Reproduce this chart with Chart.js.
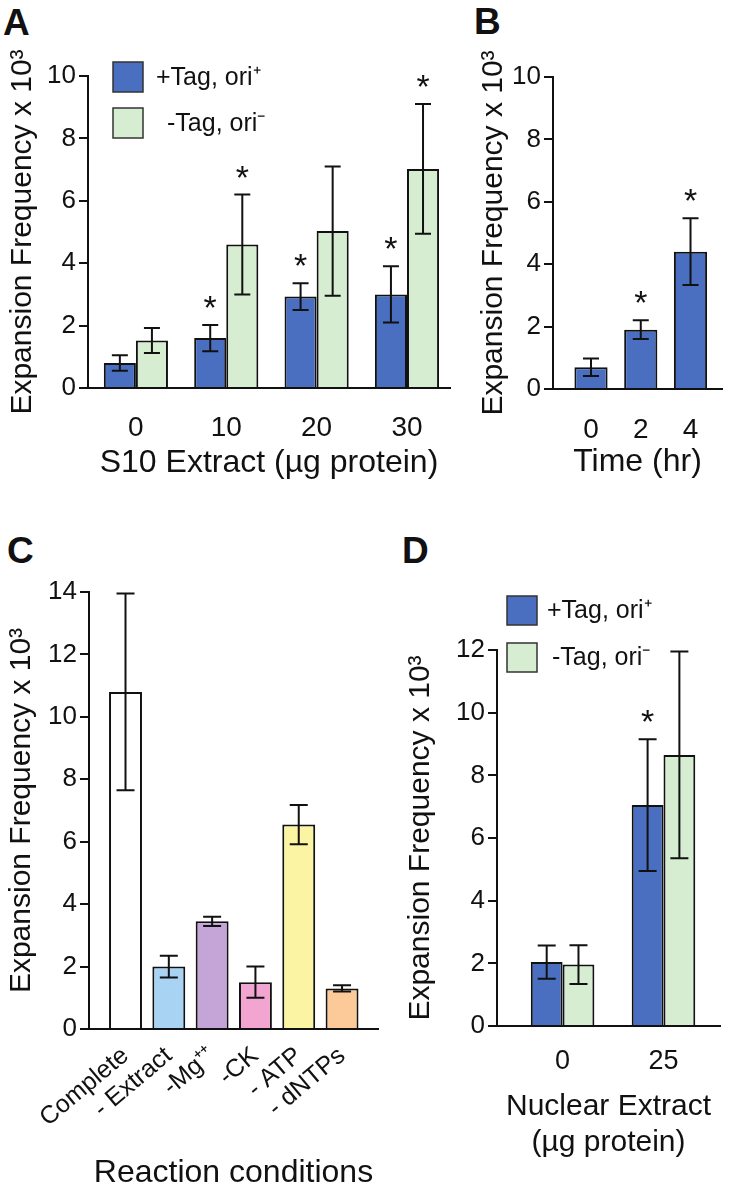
<!DOCTYPE html>
<html lang="en">
<head>
<meta charset="UTF-8">
<title>Expansion frequency panels A-D</title>
<script src="https://cdn.jsdelivr.net/npm/chart.js@4.4.1/dist/chart.umd.min.js"></script>
<style>
    body { margin: 0; background: #fff; width: 729px; height: 1189px; position: relative; overflow: hidden;
           font-family: 'Liberation Sans', Arial, Helvetica, sans-serif; }
    .panel { position: absolute; }
    .tag { position: absolute; font-weight: bold; font-size: 37px; line-height: 1; color: #111; }
</style>
</head>
<body>
<div class="tag" style="left:3px;top:4px">A</div>
<div class="tag" style="left:474px;top:3px">B</div>
<div class="tag" style="left:7px;top:532px">C</div>
<div class="tag" style="left:402px;top:532px">D</div>

<div class="panel" style="left:0;top:0;width:465px;height:500px"><canvas id="chartA"></canvas></div>
<div class="panel" style="left:465px;top:0;width:264px;height:500px"><canvas id="chartB"></canvas></div>
<div class="panel" style="left:0;top:520px;width:400px;height:669px"><canvas id="chartC"></canvas></div>
<div class="panel" style="left:400px;top:520px;width:329px;height:669px"><canvas id="chartD"></canvas></div>

<script>
    // ---- data ----
    const seriesNames = ['+Tag, ori⁺', '-Tag, ori⁻'];
    const yTitle = 'Expansion Frequency x 10³';

    // A: S10 extract
    const catsA = ['0', '10', '20', '30'];
    const plusA = [0.8, 1.6, 2.93, 3.0];
    const plusErrA = [0.25, 0.42, 0.43, 0.9];
    const minusA = [1.52, 4.6, 5.03, 7.02];
    const minusErrA = [0.4, 1.6, 2.07, 2.08];
    const plusStarA = [false, true, true, true];
    const minusStarA = [false, true, false, true];
    const yTicksA = [0, 2, 4, 6, 8, 10];

    // B: time course
    const catsB = ['0', '2', '4'];
    const plusB = [0.7, 1.9, 4.4];
    const plusErrB = [0.28, 0.3, 1.07];
    const plusStarB = [false, true, true];
    const yTicksB = [0, 2, 4, 6, 8, 10];

    // C: reaction conditions
    const catsC = ['Complete', '- Extract', '-Mg⁺⁺', '-CK', '- ATP', '- dNTPs'];
    const valuesC = [10.8, 2.0, 3.45, 1.5, 6.55, 1.3];
    const errC = [3.15, 0.35, 0.15, 0.5, 0.63, 0.1];
    const yTicksC = [0, 2, 4, 6, 8, 10, 12, 14];

    // D: nuclear extract
    const catsD = ['0', '25'];
    const plusD = [2.04, 7.05];
    const plusErrD = [0.53, 2.1];
    const minusD = [1.96, 8.65];
    const minusErrD = [0.62, 3.3];
    const plusStarD = [false, true];
    const minusStarD = [false, false];
    const yTicksD = [0, 2, 4, 6, 8, 10, 12];

    // ---- styles ----
    const FONT = "'Liberation Sans', Arial, Helvetica, sans-serif";
    const INK = '#111';
    const BLUE = '#4a6fc1';
    const GREEN = '#d7edd2';
    const colorsC = ['#ffffff', '#a9d3f2', '#c5a5d7', '#f2a5d0', '#fbf4a3', '#fcca99'];

    // error bars, asterisks and the little legend box
    const overlay = {
        id: 'overlay',
        afterDatasetsDraw(chart, args, opts) {
            const ctx = chart.ctx, ys = chart.scales.y;
            ctx.save();
            chart.data.datasets.forEach((ds, di) => {
                chart.getDatasetMeta(di).data.forEach((bar, i) => {
                    const v = ds.data[i].y, e = ds.errors[i];
                    const top = ys.getPixelForValue(v + e), bot = ys.getPixelForValue(v - e);
                    ctx.strokeStyle = INK; ctx.lineWidth = 2;
                    ctx.beginPath();
                    ctx.moveTo(bar.x, top); ctx.lineTo(bar.x, bot);
                    ctx.moveTo(bar.x - opts.cap, top); ctx.lineTo(bar.x + opts.cap, top);
                    ctx.moveTo(bar.x - opts.cap, bot); ctx.lineTo(bar.x + opts.cap, bot);
                    ctx.stroke();
                    if (ds.stars && ds.stars[i]) {
                        // asterisk centred ~25px above the error cap
                        ctx.fillStyle = INK;
                        ctx.font = `34px ${FONT}`;
                        ctx.textAlign = 'center'; ctx.textBaseline = 'alphabetic';
                        ctx.fillText('*', bar.x, top - 25 + 19);
                    }
                });
            });
            const lg = opts.legend;
            if (lg) {
                chart.data.datasets.forEach((ds, di) => {
                    const y0 = lg.y[di];
                    ctx.fillStyle = ds.backgroundColor;
                    ctx.fillRect(lg.x, y0, lg.w, lg.h);
                    ctx.strokeStyle = '#333'; ctx.lineWidth = 1.5;
                    ctx.strokeRect(lg.x, y0, lg.w, lg.h);
                    ctx.fillStyle = INK;
                    ctx.font = `25px ${FONT}`;
                    ctx.textAlign = 'left'; ctx.textBaseline = 'middle';
                    ctx.fillText(ds.label, lg.tx[di], y0 + lg.h / 2 + 1);
                });
            }
            ctx.restore();
        }
    };

    function barSet(label, vals, errs, stars, colour) {
        return {
            label: label,
            data: vals.map((v, i) => ({ x: i, y: v })),
            errors: errs, stars: stars,
            backgroundColor: colour, borderColor: INK, borderWidth: 2
        };
    }

    function makeChart(id, p) {
        return new Chart(document.getElementById(id), {
            type: 'bar',
            data: { datasets: p.datasets },
            plugins: [overlay],
            options: {
                responsive: true, maintainAspectRatio: false, animation: false,
                categoryPercentage: p.catPct, barPercentage: 1,
                layout: { padding: p.pad },
                plugins: { legend: { display: false }, tooltip: { enabled: false }, overlay: { cap: p.cap, legend: p.legend } },
                scales: {
                    x: {
                        type: 'linear', min: p.xMin, max: p.xMax, offset: false,
                        afterBuildTicks: s => { s.ticks = p.cats.map((c, i) => ({ value: i })); },
                        afterFit: s => { s.height = p.xH; },
                        grid: { display: false, drawTicks: false },
                        border: { display: true, color: INK, width: 2 },
                        ticks: {
                            callback: v => p.cats[v], autoSkip: false,
                            minRotation: p.rot, maxRotation: p.rot, padding: p.xPad,
                            font: { family: FONT, size: p.xFont, lineHeight: 1 }, color: INK
                        },
                        title: {
                            display: true, text: p.xTitle, color: INK,
                            font: { family: FONT, size: p.xTitleFont, lineHeight: p.xTitleLH },
                            padding: { top: 0, bottom: p.xTitlePad }
                        }
                    },
                    y: {
                        min: p.yTicks[0], max: p.yTicks[p.yTicks.length - 1],
                        afterBuildTicks: s => { s.ticks = p.yTicks.map(v => ({ value: v })); },
                        afterFit: s => { s.width = p.yW; },
                        grid: { drawOnChartArea: false, drawTicks: true, tickLength: 9, color: INK, lineWidth: 2 },
                        border: { display: true, color: INK, width: 2 },
                        ticks: { padding: 3, font: { family: FONT, size: 26 }, color: INK },
                        title: {
                            display: true, text: yTitle, color: INK,
                            font: { family: FONT, size: 30, lineHeight: 1.2 },
                            padding: { top: p.yTitlePad, bottom: 0 }
                        }
                    }
                }
            }
        });
    }

    makeChart('chartA', {
        datasets: [
            barSet(seriesNames[0], plusA, plusErrA, plusStarA, BLUE),
            barSet(seriesNames[1], minusA, minusErrA, minusStarA, GREEN)
        ],
        cats: catsA, xMin: -0.53, xMax: 3.476, catPct: 0.71,
        pad: { left: 0, top: 76, right: 15, bottom: 14 },
        xH: 98, xPad: 26, xFont: 28, rot: 0,
        xTitle: 'S10 Extract (µg protein)', xTitleFont: 32, xTitleLH: 1.2, xTitlePad: 4,
        yTicks: yTicksA, yW: 88, yTitlePad: 5, cap: 8,
        legend: { x: 113, y: [62, 108], w: 30, h: 30, tx: [156, 167] }
    });

    makeChart('chartB', {
        datasets: [barSet(seriesNames[0], plusB, plusErrB, plusStarB, BLUE)],
        cats: catsB, xMin: -0.764, xMax: 2.633, catPct: 0.667,
        pad: { left: 0, top: 77, right: 7, bottom: 15 },
        xH: 96, xPad: 27, xFont: 28, rot: 0,
        xTitle: 'Time (hr)', xTitleFont: 32, xTitleLH: 1.2, xTitlePad: 4,
        yTicks: yTicksB, yW: 88, yTitlePad: 11, cap: 8
    });

    makeChart('chartC', {
        datasets: [Object.assign(barSet('Reaction conditions', valuesC, errC, [], colorsC[0]), { backgroundColor: colorsC })],
        cats: catsC, xMin: -0.843, xMax: 5.83, catPct: 0.76,
        pad: { left: 0, top: 72, right: 22, bottom: 0 },
        xH: 160, xPad: 14, xFont: 25, rot: 40,
        xTitle: 'Reaction conditions', xTitleFont: 32, xTitleLH: 1, xTitlePad: 0,
        yTicks: yTicksC, yW: 89, yTitlePad: 4, cap: 9
    });

    makeChart('chartD', {
        datasets: [
            barSet(seriesNames[0], plusD, plusErrD, plusStarD, BLUE),
            barSet(seriesNames[1], minusD, minusErrD, minusStarD, GREEN)
        ],
        cats: catsD, xMin: -0.65, xMax: 1.56, catPct: 0.63,
        pad: { left: 0, top: 130, right: 9, bottom: 24 },
        xH: 139, xPad: 22, xFont: 27, rot: 0,
        xTitle: ['Nuclear Extract', '(µg protein)'], xTitleFont: 30, xTitleLH: 1.2, xTitlePad: 4,
        yTicks: yTicksD, yW: 97, yTitlePad: 3, cap: 9,
        legend: { x: 107, y: [76, 123], w: 30, h: 29, tx: [147, 152] }
    });
</script>
</body>
</html>
